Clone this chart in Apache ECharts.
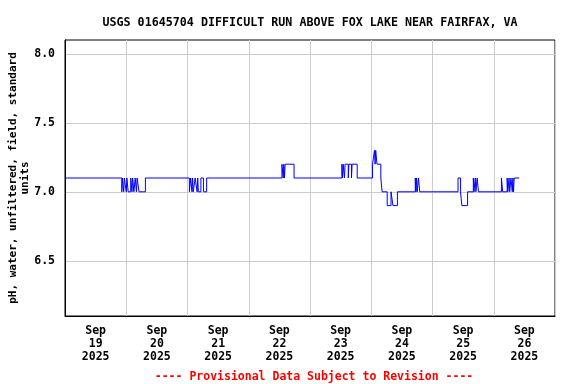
<!DOCTYPE html>
<html>
<head>
<meta charset="utf-8">
<script src="https://cdn.jsdelivr.net/npm/echarts@6/dist/echarts.min.js"></script>
<style>
  html, body { margin: 0; padding: 0; background: #fff; }
  #chart { width: 576px; height: 384px; }
</style>
</head>
<body>
<div id="chart"></div>
<script>
// hours since Sep 19 2025 00:00, with the pH value that starts at that time
var hours = [0, 22.25, 22.5, 23, 23.25, 24, 24.25, 24.75, 25.75, 26.25, 26.5, 27, 27.5, 28, 28.25, 29, 31.5,
    48.75, 49.25, 49.75, 50, 50.25, 51, 51.75, 52, 52.25, 53.25, 54.25, 55.5,
    85, 85.5, 85.75, 86, 86.25, 89.75,
    108.5, 108.75, 109, 109.5, 109.75, 111, 111.25, 112.25, 112.5, 114.5,
    120.5, 121.25, 121.5, 121.75, 122.25, 123.75, 124.25, 126.25, 127.75, 128.5, 130.25,
    137.25, 137.5, 137.75, 138, 138.5, 139,
    154, 155, 155.5, 157.75, 160, 160.25, 160.75, 161, 161.5, 162,
    171, 171.5, 173.25, 173.5, 174, 174.25, 174.75, 175.25, 175.5, 175.75, 176, 178];
var ph = [7.1, 7.0, 7.1, 7.0, 7.1, 7.0, 7.1, 7.0, 7.1, 7.0, 7.1, 7.0, 7.1, 7.0, 7.1, 7.0, 7.1,
    7.0, 7.1, 7.0, 7.1, 7.0, 7.1, 7.0, 7.1, 7.0, 7.1, 7.0, 7.1,
    7.2, 7.1, 7.2, 7.1, 7.2, 7.1,
    7.2, 7.1, 7.2, 7.1, 7.2, 7.1, 7.2, 7.1, 7.2, 7.1,
    7.2, 7.3, 7.2, 7.3, 7.2, 7.1, 7.0, 6.9, 7.0, 6.9, 7.0,
    7.1, 7.0, 7.1, 7.0, 7.1, 7.0,
    7.1, 7.0, 6.9, 7.0, 7.1, 7.0, 7.1, 7.0, 7.1, 7.0,
    7.1, 7.0, 7.1, 7.0, 7.1, 7.0, 7.1, 7.0, 7.1, 7.0, 7.1, 7.1];

var dayLabelHours = [12, 36, 60, 84, 108, 132, 156, 180];
var dayNames = ['19', '20', '21', '22', '23', '24', '25', '26'];
var yTicks = [6.5, 7.0, 7.5, 8.0];

var mono = 'DejaVu Sans Mono';

var points = [];
for (var i = 0; i < hours.length; i++) {
    points.push([hours[i], ph[i]]);
}

var myChart = echarts.init(document.getElementById('chart'));
var option = {
    backgroundColor: '#fff',
    animation: false,
    title: [
        {
            text: 'USGS 01645704 DIFFICULT RUN ABOVE FOX LAKE NEAR FAIRFAX, VA',
            left: 305,
            top: 12,
            textAlign: 'center',
            textStyle: { fontFamily: mono, fontWeight: 'bold', fontSize: 11.7, color: '#000' }
        },
        {
            text: '---- Provisional Data Subject to Revision ----',
            left: 309,
            top: 366,
            textAlign: 'center',
            textStyle: { fontFamily: mono, fontWeight: 'bold', fontSize: 11.5, color: '#ff0000' }
        }
    ],
    grid: {
        left: 65, right: 21, top: 40, bottom: 68,
        outerBoundsMode: 'none',
        containLabel: false,
        show: true,
        borderColor: '#000',
        borderWidth: 1
    },
    xAxis: {
        type: 'value',
        min: 0,
        max: 192,
        interval: 24,
        axisLine: { lineStyle: { color: '#000' } },
        axisTick: { show: false },
        splitLine: { show: true, lineStyle: { color: '#cccccc' } },
        axisLabel: {
            customValues: dayLabelHours,
            margin: 9,
            lineHeight: 13,
            fontFamily: mono,
            fontWeight: 'bold',
            fontSize: 11.5,
            color: '#000',
            formatter: function (v) {
                var idx = Math.floor(v / 24);
                return 'Sep\n' + dayNames[idx] + '\n2025';
            }
        }
    },
    yAxis: {
        type: 'value',
        min: 6.1,
        max: 8.1,
        name: 'pH, water, unfiltered, field, standard\nunits',
        nameLocation: 'middle',
        nameRotate: 90,
        nameGap: 34,
        nameMoveOverlap: false,
        nameTextStyle: { fontFamily: mono, fontWeight: 'bold', fontSize: 11, color: '#000', lineHeight: 12 },
        axisLine: { lineStyle: { color: '#000' } },
        axisTick: { show: false, customValues: yTicks },
        splitLine: { show: true, lineStyle: { color: '#cccccc' } },
        axisLabel: {
            customValues: yTicks,
            margin: 10,
            fontFamily: mono,
            fontWeight: 'bold',
            fontSize: 11.5,
            color: '#000',
            formatter: function (v) { return v.toFixed(1); }
        }
    },
    series: [
        {
            type: 'line',
            data: points,
            step: 'end',
            showSymbol: false,
            lineStyle: { color: '#0000ff', width: 1 }
        }
    ]
};
myChart.setOption(option);
</script>
</body>
</html>
